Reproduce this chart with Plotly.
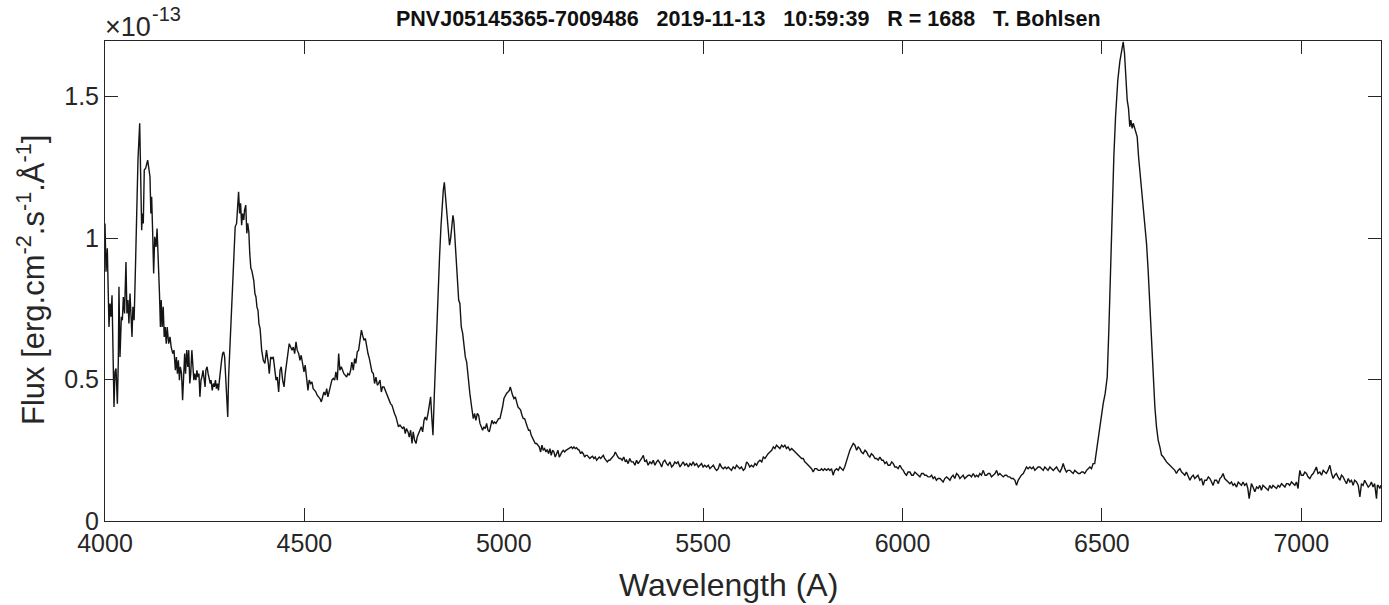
import plotly.graph_objects as go

# Flux in units of 1e-13 erg cm^-2 s^-1 A^-1, wavelength in Angstrom
SEG_HDELTA = [
    (4000, 1.052), (4002.5, 0.881), (4005.8, 0.964), (4008, 0.804), (4010, 0.686), (4012.5, 0.769),
    (4015, 0.722), (4017.6, 0.798), (4020, 0.615), (4022.6, 0.403), (4025, 0.527), (4027.6, 0.539),
    (4031, 0.415), (4033.4, 0.568), (4035, 0.828), (4037.6, 0.580), (4041, 0.722), (4043.5, 0.710),
    (4046, 0.792), (4049, 0.734), (4052.6, 0.916), (4055, 0.734), (4057.6, 0.781), (4060, 0.698),
    (4062.7, 0.804), (4065, 0.710), (4067.7, 0.651), (4070, 0.757), (4073, 0.710), (4076, 0.875),
    (4079.4, 1.087), (4082.7, 1.276), (4087, 1.406), (4089, 1.241), (4092, 1.028), (4093.6, 1.087),
    (4096, 1.052), (4098.5, 1.241), (4102, 1.247), (4107, 1.276), (4110, 1.241), (4112.8, 1.217),
    (4115, 1.087), (4117, 1.146), (4119.6, 1.017), (4122, 0.875), (4124.7, 1.005), (4128, 0.969),
    (4130.6, 1.034), (4133, 0.958), (4136.6, 0.804), (4139, 0.686), (4141, 0.781), (4143.4, 0.686),
    (4146, 0.757), (4148.5, 0.651), (4151, 0.686), (4153.6, 0.627), (4156, 0.686), (4159.6, 0.627),
    (4163, 0.651), (4166, 0.615), (4170, 0.592), (4173, 0.604), (4176.5, 0.533), (4179, 0.580),
    (4181.6, 0.521), (4184, 0.568), (4186.7, 0.498), (4189, 0.545), (4192, 0.521), (4194.6, 0.427),
    (4197, 0.545), (4199.8, 0.592), (4202, 0.521), (4205, 0.604), (4207.6, 0.545), (4210, 0.604),
    (4212.7, 0.486), (4215, 0.521), (4217.8, 0.604), (4220, 0.568), (4222.8, 0.498), (4225, 0.521),
    (4228, 0.498), (4230.5, 0.533), (4233, 0.509), (4235.6, 0.521), (4238, 0.439), (4240.7, 0.498),
    (4243, 0.509), (4245.8, 0.533), (4248, 0.498), (4251, 0.474), (4253, 0.533), (4256, 0.545),
    (4258.6, 0.521), (4261, 0.509), (4264, 0.486), (4266, 0.498), (4269, 0.462), (4271.6, 0.486),
    (4274, 0.474), (4277, 0.498), (4279.4, 0.468), (4282, 0.486), (4284.5, 0.462), (4287, 0.498),
]

SEG_HGAMMA = [
    (4290, 0.557), (4292.4, 0.568), (4295, 0.592), (4297.6, 0.598), (4300, 0.580), (4302.7, 0.498),
    (4305, 0.415), (4307.8, 0.368), (4310, 0.509), (4312.8, 0.604), (4316, 0.710), (4320, 0.816),
    (4323, 0.922), (4326.5, 1.040), (4330, 1.052), (4332, 1.111), (4335, 1.164), (4337.6, 1.087),
    (4340, 1.123), (4342.7, 1.046), (4345, 1.087), (4348, 1.064), (4350, 1.099), (4353, 1.117),
    (4355.6, 1.017), (4358, 1.052), (4360.7, 1.022), (4363, 0.946), (4365.8, 0.893), (4368, 0.887),
    (4371, 0.863), (4373, 0.851), (4376, 0.804), (4378.6, 0.792), (4381, 0.757), (4383.7, 0.745),
    (4386, 0.698), (4389, 0.680), (4392.9, 0.604), (4397, 0.568), (4401, 0.557), (4405, 0.604),
    (4409.6, 0.557), (4412, 0.521), (4415.5, 0.580), (4418.8, 0.574), (4422, 0.580), (4425.5, 0.545),
    (4429, 0.498), (4432, 0.509), (4435.5, 0.456), (4439, 0.533), (4442, 0.545), (4445.5, 0.498),
    (4449, 0.474), (4452, 0.521), (4455.6, 0.557), (4459, 0.592), (4462, 0.627), (4465.6, 0.615),
    (4469, 0.604), (4472.3, 0.615), (4475.6, 0.592), (4479, 0.633), (4482, 0.604), (4485.7, 0.592),
    (4489, 0.568), (4492, 0.586), (4495.7, 0.557), (4499, 0.527), (4502, 0.551), (4505.7, 0.498),
    (4509, 0.462), (4512, 0.498), (4515.7, 0.486), (4519, 0.492), (4522, 0.468), (4525.8, 0.462),
    (4529, 0.456), (4532, 0.445), (4535.8, 0.439), (4539, 0.433), (4542.5, 0.421), (4545.8, 0.439),
    (4549, 0.456), (4552.5, 0.445), (4556, 0.468), (4559, 0.439), (4562.6, 0.462), (4566, 0.486),
    (4569, 0.498), (4572.6, 0.504), (4576, 0.498), (4579, 0.527), (4582.6, 0.498), (4586, 0.592),
    (4589, 0.533), (4592.6, 0.545), (4596, 0.527), (4599, 0.521), (4602.7, 0.515), (4606, 0.509),
    (4609, 0.521), (4612.7, 0.515), (4616, 0.533), (4619, 0.562), (4622.7, 0.533), (4626, 0.574),
    (4629, 0.557), (4632.7, 0.598), (4636, 0.604), (4639, 0.633), (4643, 0.675), (4646, 0.657),
    (4649.5, 0.639), (4653, 0.645), (4656, 0.615), (4659.5, 0.592), (4663, 0.574), (4666, 0.557),
    (4669.5, 0.527), (4673, 0.521), (4676, 0.486), (4679.5, 0.509), (4683, 0.480), (4686, 0.486),
    (4689.6, 0.498), (4693, 0.456), (4696, 0.474), (4699.6, 0.474), (4703, 0.462), (4706, 0.445),
    (4709.6, 0.433), (4713, 0.421), (4716, 0.415), (4719.7, 0.409), (4723, 0.392), (4726, 0.380),
    (4729.7, 0.368), (4733, 0.345), (4736, 0.333), (4739.7, 0.339), (4743, 0.333), (4746, 0.327),
    (4749.8, 0.333), (4753, 0.309), (4756, 0.327), (4760, 0.315), (4763, 0.297), (4766.5, 0.321),
    (4770, 0.274), (4773, 0.315), (4776.5, 0.285), (4780, 0.274), (4783, 0.297), (4786.5, 0.309),
    (4790, 0.321), (4793.2, 0.333), (4796.6, 0.315), (4800, 0.356), (4803, 0.368), (4806.6, 0.356),
    (4810, 0.380), (4813, 0.403), (4816.6, 0.439), (4820, 0.356), (4822.5, 0.303),
]

SEG_HBETA = [
    (4826, 0.451), (4829, 0.580), (4832.5, 0.722), (4836, 0.816), (4839, 0.934), (4842.5, 1.040),
    (4846, 1.123), (4848.4, 1.170), (4851, 1.197), (4853.4, 1.158), (4856, 1.111), (4859.3, 1.052),
    (4861.8, 1.040), (4864, 0.975), (4866.8, 0.999), (4870, 1.064), (4872.6, 1.081), (4875, 1.058),
    (4877.6, 0.993), (4880, 0.958), (4883.5, 0.863), (4887, 0.781), (4890, 0.769), (4893.5, 0.686),
    (4897, 0.663), (4900, 0.615), (4903.6, 0.580), (4907, 0.562), (4911, 0.497), (4915, 0.451),
    (4919.5, 0.403), (4923.6, 0.362), (4927, 0.380), (4930, 0.356), (4933.7, 0.380), (4937, 0.374),
    (4940.4, 0.345), (4943.7, 0.333), (4947, 0.321), (4950.4, 0.333), (4953.7, 0.327), (4957, 0.345),
    (4960.4, 0.321), (4963.8, 0.315), (4967, 0.339), (4970.4, 0.356), (4973.8, 0.345), (4977, 0.350),
    (4980.5, 0.345), (4983.8, 0.356), (4987, 0.362), (4990.5, 0.362), (4993.8, 0.380), (4997, 0.403),
    (5000.5, 0.433), (5003.9, 0.445), (5007, 0.451), (5010.6, 0.456), (5014, 0.462), (5016.4, 0.474),
    (5019, 0.456), (5022, 0.445), (5025.6, 0.433), (5029, 0.439), (5032.3, 0.421), (5035.6, 0.403),
    (5039, 0.398), (5042.3, 0.392), (5045.7, 0.374), (5049, 0.362), (5052.4, 0.362), (5055.7, 0.345),
    (5059, 0.333), (5062.4, 0.321), (5065.7, 0.321), (5069, 0.303), (5072.4, 0.291), (5075.8, 0.279),
    (5079, 0.274), (5082.4, 0.274), (5085.8, 0.268), (5089, 0.262), (5092.5, 0.244), (5095.8, 0.268),
    (5099, 0.250), (5102.5, 0.256), (5105.8, 0.244), (5109, 0.253), (5112.5, 0.238), (5115.9, 0.256),
    (5119, 0.232), (5122.6, 0.250), (5126, 0.244), (5129, 0.226), (5132.6, 0.238), (5136, 0.250),
    (5139.3, 0.226), (5142.6, 0.238), (5146, 0.244), (5149.3, 0.250), (5152.7, 0.244), (5156, 0.250),
    (5159.3, 0.253), (5162.7, 0.256), (5166, 0.256), (5169.4, 0.262), (5172.7, 0.256), (5176, 0.262),
    (5179.4, 0.256), (5182.7, 0.259), (5186, 0.253), (5189.4, 0.250), (5192.8, 0.238), (5196, 0.244),
    (5199.5, 0.238), (5202.8, 0.226), (5206, 0.232), (5209.5, 0.232), (5212.8, 0.226), (5216, 0.221),
    (5219.5, 0.226), (5222.8, 0.229), (5226, 0.221), (5229.5, 0.226), (5232.9, 0.215), (5236, 0.221),
    (5239.6, 0.226), (5243, 0.221), (5246, 0.226), (5249.6, 0.232), (5253, 0.221), (5256, 0.215),
    (5259.6, 0.209), (5263, 0.215), (5266, 0.215), (5269.7, 0.221), (5273, 0.226), (5276.4, 0.232),
    (5279.7, 0.244), (5283, 0.232), (5286.4, 0.226), (5289.7, 0.221), (5293, 0.221), (5297, 0.215),
    (5301, 0.226), (5305, 0.209), (5308, 0.215), (5312, 0.203), (5316, 0.221), (5320, 0.209),
    (5324.8, 0.209), (5329, 0.197), (5333, 0.215), (5337, 0.203), (5341.5, 0.215), (5345.7, 0.221),
    (5350, 0.232), (5354, 0.209), (5358, 0.215), (5362, 0.197), (5366.6, 0.209), (5371, 0.203),
    (5375, 0.215), (5379, 0.197), (5383.3, 0.209), (5387, 0.215), (5391.7, 0.205), (5396, 0.191),
    (5400, 0.209), (5404, 0.215), (5408.4, 0.203), (5412, 0.197), (5416.8, 0.209),
]

SEG_YELLOW = [
    (5421, 0.191), (5425, 0.197), (5429, 0.209), (5433, 0.203), (5437, 0.209), (5442, 0.191),
    (5446, 0.203), (5450, 0.209), (5454, 0.197), (5458.6, 0.203), (5463, 0.191), (5467, 0.203),
    (5471, 0.197), (5475, 0.209), (5479, 0.197), (5483.7, 0.203), (5488, 0.191), (5492, 0.197),
    (5496, 0.203), (5500, 0.191), (5504, 0.197), (5508.7, 0.191), (5513, 0.197), (5517, 0.185),
    (5521, 0.191), (5525.5, 0.197), (5530, 0.185), (5534, 0.179), (5538, 0.185), (5542, 0.203),
    (5546, 0.191), (5550.5, 0.185), (5555, 0.191), (5559, 0.185), (5563, 0.191), (5567, 0.185),
    (5571, 0.179), (5575.6, 0.191), (5580, 0.185), (5584, 0.197), (5588, 0.191), (5592, 0.185),
    (5596, 0.191), (5600.7, 0.179), (5605, 0.185), (5609, 0.209), (5613, 0.203), (5617, 0.191),
    (5621, 0.197), (5625.8, 0.191), (5630, 0.203), (5634, 0.197), (5638, 0.209), (5642.5, 0.215),
    (5647, 0.209), (5651, 0.226), (5655, 0.221), (5659, 0.232), (5663, 0.238), (5667.5, 0.244),
    (5672, 0.250), (5676, 0.262), (5680, 0.256), (5684, 0.268), (5688, 0.262), (5692.6, 0.256),
    (5697, 0.268), (5701, 0.262), (5705, 0.268), (5709, 0.256), (5713, 0.262), (5717.7, 0.250),
    (5722, 0.256), (5726, 0.250), (5730, 0.244), (5734.4, 0.238), (5738, 0.232), (5742.8, 0.226),
    (5747, 0.221), (5751, 0.221), (5755, 0.209), (5759.5, 0.203), (5764, 0.197), (5768, 0.191),
    (5772, 0.185), (5776, 0.173), (5780, 0.185), (5784.6, 0.185), (5789, 0.179), (5793, 0.179),
    (5797, 0.185), (5801, 0.179), (5805, 0.185), (5809.6, 0.179), (5814, 0.185), (5818, 0.179),
    (5822, 0.185), (5826, 0.162), (5830, 0.179), (5834.7, 0.185), (5839, 0.179), (5843, 0.191),
    (5847, 0.185), (5851, 0.179), (5855, 0.191), (5859.8, 0.209), (5864, 0.232), (5868, 0.250),
    (5872, 0.262), (5876.5, 0.274), (5880.7, 0.268), (5885, 0.250), (5889, 0.262), (5893, 0.256),
    (5897, 0.244), (5901.5, 0.238), (5906, 0.250), (5910, 0.244), (5914, 0.232), (5918, 0.226),
    (5922, 0.238), (5926.6, 0.232), (5931, 0.221), (5935, 0.221), (5939, 0.215), (5943.3, 0.226),
    (5948, 0.215), (5951.7, 0.215), (5956, 0.203), (5960, 0.209), (5964, 0.197), (5968.4, 0.197),
    (5973, 0.209), (5977, 0.203), (5981, 0.191), (5985, 0.191), (5989, 0.185), (5993.5, 0.197),
    (5998, 0.185),
]

SEG_ORANGE = [
    (6002, 0.179), (6006, 0.168), (6010, 0.162), (6014, 0.173), (6018.6, 0.173), (6023, 0.162),
    (6027, 0.162), (6031, 0.173), (6035, 0.168), (6039, 0.162), (6043.6, 0.156), (6048, 0.168),
    (6052, 0.168), (6056, 0.162), (6060, 0.162), (6064, 0.156), (6069, 0.156), (6073, 0.162),
    (6077, 0.150), (6081, 0.156), (6085, 0.144), (6089, 0.150), (6094, 0.150), (6098, 0.144),
    (6102, 0.138), (6106, 0.150), (6110.5, 0.156), (6115, 0.150), (6119, 0.144), (6123, 0.156),
    (6127, 0.162), (6131, 0.150), (6135.6, 0.168), (6140, 0.162), (6144, 0.150), (6148, 0.156),
    (6152, 0.162), (6156, 0.150), (6160.7, 0.156), (6165, 0.162), (6169, 0.162), (6173, 0.156),
    (6177.4, 0.168), (6182, 0.156), (6186, 0.162), (6190, 0.156), (6194, 0.168), (6198, 0.162),
    (6202.5, 0.179), (6207, 0.162), (6211, 0.162), (6215, 0.168), (6219, 0.168), (6223, 0.156),
    (6227.5, 0.162), (6232, 0.168), (6236, 0.179), (6240, 0.162), (6244, 0.168), (6248, 0.162),
    (6252.6, 0.156), (6257, 0.162), (6261, 0.162), (6265, 0.156), (6269, 0.156), (6273, 0.150),
    (6277.7, 0.150), (6282, 0.144), (6286, 0.126), (6290, 0.144), (6294, 0.156), (6298, 0.162),
    (6302.8, 0.168), (6307, 0.179), (6311, 0.191), (6315, 0.185), (6319.5, 0.191), (6324, 0.185),
    (6328, 0.191), (6332, 0.179), (6336, 0.185), (6340, 0.191), (6344.6, 0.191), (6349, 0.185),
    (6353, 0.179), (6357, 0.191), (6361, 0.185), (6365, 0.179), (6369.6, 0.191), (6374, 0.185),
    (6378, 0.179), (6382, 0.185), (6386.3, 0.191), (6391, 0.179), (6395, 0.173), (6399, 0.185),
    (6403, 0.203), (6407, 0.185), (6411, 0.173), (6415, 0.179), (6420, 0.179), (6424, 0.173),
    (6428, 0.168), (6432, 0.179), (6436.5, 0.173), (6441, 0.168), (6445, 0.168), (6449, 0.173),
    (6453, 0.173), (6457, 0.168), (6461.6, 0.179), (6466, 0.185), (6470, 0.191), (6474, 0.185),
    (6478, 0.203),
]

SEG_HALPHA = [
    (6482, 0.203), (6486.6, 0.250), (6491, 0.291), (6495, 0.333), (6499, 0.374), (6503.3, 0.415),
    (6508.3, 0.451), (6513.4, 0.509), (6517.5, 0.675), (6521.7, 0.910), (6525.9, 1.146), (6530, 1.288),
    (6534.3, 1.429), (6540, 1.559), (6545, 1.624), (6549, 1.659), (6551.8, 1.683), (6553.5, 1.694),
    (6556.8, 1.653), (6560, 1.571), (6563.5, 1.488), (6566.8, 1.459), (6570, 1.394), (6572.7, 1.417),
    (6576, 1.388), (6578.6, 1.406), (6582, 1.388), (6585, 1.382), (6588.6, 1.358), (6592, 1.288),
    (6595, 1.240), (6599.4, 1.182), (6603.6, 1.111), (6607.8, 1.052), (6612, 0.981), (6616, 0.887),
    (6620.3, 0.769), (6624.5, 0.639), (6628.7, 0.509), (6632.9, 0.403), (6637, 0.333), (6641.2, 0.286),
    (6645.4, 0.262), (6649.6, 0.233), (6653.8, 0.227), (6658, 0.215),
]

SEG_RED = [
    (6662, 0.209), (6666, 0.203), (6670.5, 0.197), (6675, 0.191), (6679, 0.185), (6683, 0.179),
    (6687, 0.168), (6691, 0.179), (6695.6, 0.185), (6700, 0.173), (6704, 0.168), (6708, 0.162),
    (6712, 0.173), (6716, 0.156), (6720.7, 0.144), (6725, 0.156), (6729, 0.162), (6733, 0.150),
    (6737.4, 0.156), (6741, 0.162), (6745.7, 0.144), (6750, 0.150), (6754, 0.126), (6758, 0.144),
    (6762.5, 0.144), (6767, 0.156), (6771, 0.150), (6775, 0.138), (6779, 0.126), (6783, 0.144),
    (6787.5, 0.144), (6792, 0.132), (6796, 0.150), (6800, 0.156), (6804, 0.168), (6808, 0.150),
    (6812.6, 0.144), (6817, 0.138), (6821, 0.132), (6825, 0.138), (6829, 0.126), (6833, 0.132),
    (6837.7, 0.120), (6842, 0.138), (6846, 0.132), (6850, 0.126), (6854, 0.138), (6858, 0.126),
    (6862.7, 0.132), (6866, 0.115), (6869.4, 0.079), (6872, 0.109), (6875, 0.132), (6879, 0.120),
    (6883.6, 0.103), (6888, 0.120), (6892, 0.115), (6896, 0.126), (6900, 0.109), (6904, 0.126),
    (6908.7, 0.120), (6913, 0.115), (6917, 0.109), (6921, 0.126), (6925.4, 0.115), (6929, 0.126),
    (6933.8, 0.120), (6938, 0.115), (6942, 0.126), (6946, 0.120), (6950.5, 0.132), (6955, 0.126),
    (6959, 0.120), (6963, 0.132), (6967, 0.132), (6971, 0.126), (6975.6, 0.138), (6980, 0.132),
    (6984, 0.126), (6988, 0.138), (6992, 0.115), (6994, 0.150), (6996.5, 0.179), (7000, 0.162),
    (7005, 0.162), (7009, 0.173), (7013, 0.168), (7017, 0.156), (7021.6, 0.150), (7026, 0.162),
    (7030, 0.168), (7034, 0.179), (7038, 0.191), (7042, 0.168), (7046.6, 0.173), (7051, 0.162),
    (7055, 0.179), (7059, 0.173), (7063, 0.168), (7067, 0.179), (7071.7, 0.197), (7076, 0.168),
    (7080, 0.150), (7084, 0.162), (7088, 0.168), (7092, 0.156), (7096.8, 0.144), (7101, 0.162),
    (7105, 0.156), (7109, 0.144), (7113.5, 0.132), (7118, 0.150), (7122, 0.138), (7126, 0.144),
    (7130, 0.126), (7134, 0.144), (7138.6, 0.138), (7143, 0.126), (7147, 0.085), (7151, 0.132),
    (7155, 0.126), (7159, 0.144), (7163.6, 0.132), (7168, 0.120), (7172, 0.126), (7176, 0.138),
    (7180, 0.120), (7184, 0.132), (7188.7, 0.079), (7191, 0.126), (7193, 0.126), (7197, 0.115),
    (7200, 0.126),
]

X_TICKS = [4000, 4500, 5000, 5500, 6000, 6500, 7000]
Y_TICKS = [0, 0.5, 1, 1.5]
Y_TICK_TEXT = ["0", "0.5", "1", "1.5"]

TITLE = "PNVJ05145365-7009486   2019-11-13   10:59:39   R = 1688   T. Bohlsen"
X_LABEL = "Wavelength (A)"
Y_LABEL = "Flux [erg.cm<sup>-2</sup>.s<sup>-1</sup>.Å<sup>-1</sup>]"
EXP_BASE = "×10"
EXP_POWER = "-13"

points = SEG_HDELTA + SEG_HGAMMA + SEG_HBETA + SEG_YELLOW + SEG_ORANGE + SEG_HALPHA + SEG_RED
wavelength = [p[0] for p in points]
flux = [p[1] for p in points]

FONT = "Liberation Sans, Arial, Helvetica, sans-serif"
AX_COLOR = "#262626"

fig = go.Figure()
fig.add_trace(go.Scatter(x=wavelength, y=flux, mode="lines",
                         line=dict(color="#141414", width=1.4), showlegend=False,
                         hoverinfo="skip"))

axis_common = dict(
    showline=True, linecolor=AX_COLOR, linewidth=1, mirror="ticks",
    ticks="inside", ticklen=13, tickwidth=1, tickcolor=AX_COLOR,
    showgrid=False, zeroline=False,
    tickfont=dict(family=FONT, size=25, color=AX_COLOR),
)

fig.update_layout(
    width=1389, height=605,
    margin=dict(l=105, r=8, t=41, b=84),
    paper_bgcolor="white", plot_bgcolor="white",
    xaxis=dict(range=[4000, 7200], tickvals=X_TICKS, **axis_common),
    yaxis=dict(range=[0, 1.697], tickvals=Y_TICKS, ticktext=Y_TICK_TEXT, **axis_common),
    annotations=[
        dict(text="<b>" + TITLE.replace(" ", "\u00a0") + "</b>", xref="paper", yref="paper",
             x=0.504, y=1.0458, xanchor="center", yanchor="middle", showarrow=False,
             font=dict(family=FONT, size=21.5, color="#111111")),
        dict(text=X_LABEL, xref="paper", yref="paper", x=0.489, y=-0.1333, xanchor="center",
             yanchor="middle", showarrow=False,
             font=dict(family=FONT, size=32, color=AX_COLOR)),
        dict(text=Y_LABEL, xref="paper", yref="paper", x=-0.058, y=0.502, xanchor="center",
             yanchor="middle", textangle=-90, showarrow=False,
             font=dict(family=FONT, size=31, color=AX_COLOR)),
        dict(text=EXP_BASE, xref="paper", yref="paper", x=0, y=1.0, xanchor="left",
             yanchor="bottom", xshift=-2, yshift=-3, showarrow=False,
             font=dict(family=FONT, size=27, color=AX_COLOR)),
        dict(text=EXP_POWER, xref="paper", yref="paper", x=0, y=1.0, xanchor="left",
             yanchor="bottom", xshift=45, yshift=14, showarrow=False,
             font=dict(family=FONT, size=20, color=AX_COLOR)),
    ],
)

fig.write_html("out.html")
